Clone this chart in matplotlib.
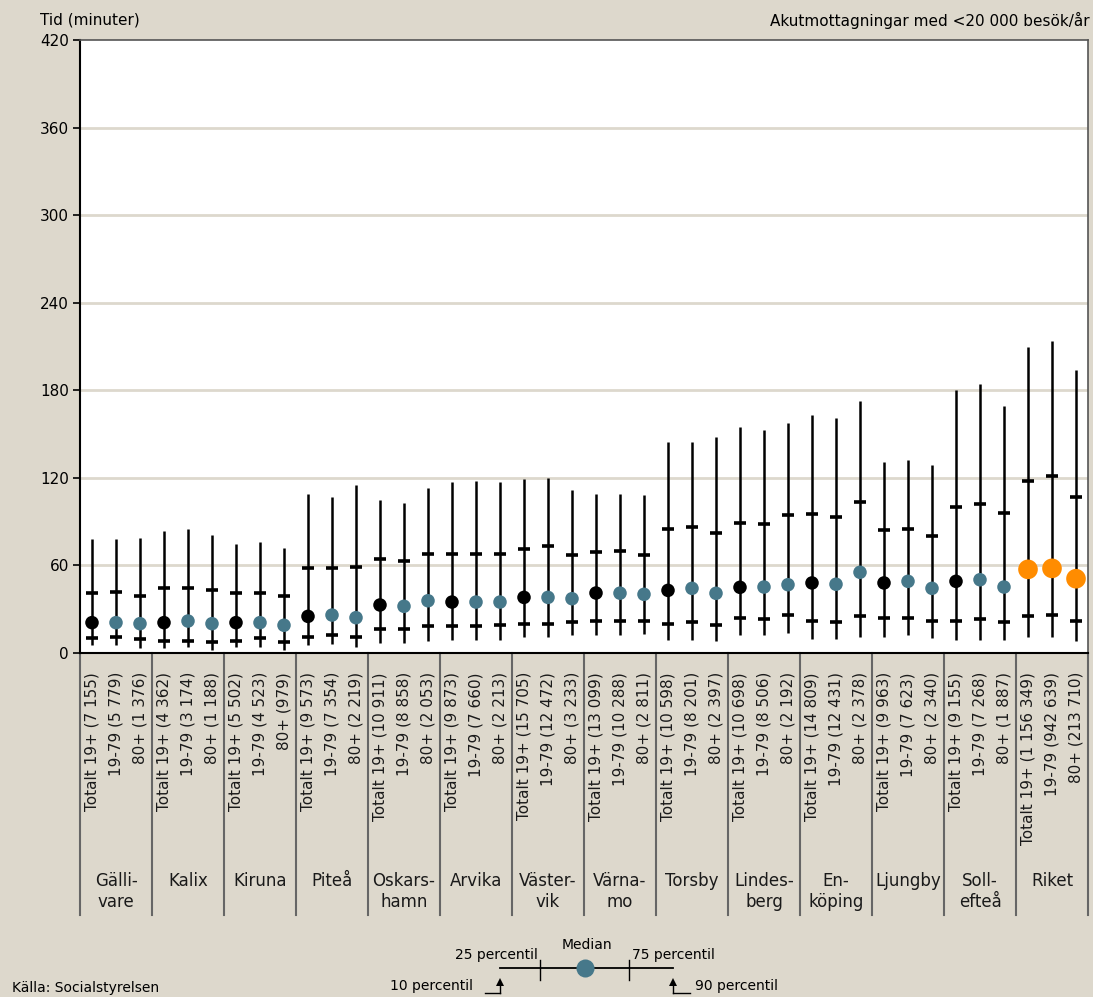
import matplotlib.pyplot as plt
import matplotlib.transforms as mtransforms
from matplotlib.lines import Line2D
import numpy as np

# Median waiting time (minutes) per emergency department and age group
groups = ["Gälli-\nvare", "Kalix", "Kiruna", "Piteå", "Oskars-\nhamn", "Arvika",
          "Väster-\nvik", "Värna-\nmo", "Torsby", "Lindes-\nberg", "En-\nköping",
          "Ljungby", "Soll-\nefteå", "Riket"]
labels = [
    "Totalt 19+ (7 155)", "19-79 (5 779)", "80+ (1 376)",
    "Totalt 19+ (4 362)", "19-79 (3 174)", "80+ (1 188)",
    "Totalt 19+ (5 502)", "19-79 (4 523)", "80+ (979)",
    "Totalt 19+ (9 573)", "19-79 (7 354)", "80+ (2 219)",
    "Totalt 19+ (10 911)", "19-79 (8 858)", "80+ (2 053)",
    "Totalt 19+ (9 873)", "19-79 (7 660)", "80+ (2 213)",
    "Totalt 19+ (15 705)", "19-79 (12 472)", "80+ (3 233)",
    "Totalt 19+ (13 099)", "19-79 (10 288)", "80+ (2 811)",
    "Totalt 19+ (10 598)", "19-79 (8 201)", "80+ (2 397)",
    "Totalt 19+ (10 698)", "19-79 (8 506)", "80+ (2 192)",
    "Totalt 19+ (14 809)", "19-79 (12 431)", "80+ (2 378)",
    "Totalt 19+ (9 963)", "19-79 (7 623)", "80+ (2 340)",
    "Totalt 19+ (9 155)", "19-79 (7 268)", "80+ (1 887)",
    "Totalt 19+ (1 156 349)", "19-79 (942 639)", "80+ (213 710)",
]
p10 = [5.5, 5.5, 3.2, 3.2, 4.3, 2.1, 4.3, 4.3, 2.1, 5.5, 6.2, 4.3,
       7.1, 7.1, 8.0, 9.1, 9.1, 9.1, 11.2, 11.2, 12.1, 12.1, 12.1, 13.0,
       9.1, 9.1, 8.0, 12.1, 12.1, 13.9, 9.8, 9.8, 11.2, 11.2, 12.1, 10.1,
       9.1, 9.1, 9.1, 11.2, 11.2, 8.0]
p25 = [10.1, 11.2, 9.4, 8.4, 8.4, 7.8, 8.4, 10.1, 7.8, 11.0, 12.1, 11.0,
       16.2, 16.2, 18.3, 18.3, 18.3, 19.0, 19.6, 19.6, 21.0, 21.7, 21.7, 21.7,
       19.6, 21.0, 19.0, 23.8, 23.1, 25.8, 21.7, 21.0, 25.1, 23.8, 23.8, 21.7,
       21.7, 23.1, 21.0, 25.1, 25.8, 21.7]
median = [20.8, 20.8, 20.1, 20.8, 21.9, 20.1, 20.8, 20.8, 19.0, 25.1, 26.0, 24.2,
          32.9, 32.0, 35.8, 34.9, 34.9, 34.9, 38.1, 38.1, 37.2, 41.1, 41.0, 40.2,
          42.9, 44.3, 40.9, 45.0, 45.2, 46.8, 48.0, 47.1, 55.3, 48.0, 49.1, 44.3,
          49.1, 50.2, 45.2, 57.3, 58.0, 50.9]
p75 = [40.9, 41.6, 39.1, 44.3, 44.3, 42.9, 40.9, 40.9, 39.1, 58.0, 58.0, 58.7,
       64.2, 62.8, 67.6, 67.6, 67.6, 67.6, 71.0, 73.1, 66.9, 69.0, 69.7, 66.9,
       84.7, 86.1, 82.0, 88.9, 88.2, 94.3, 95.0, 93.0, 103.3, 84.1, 84.7, 79.9,
       99.8, 101.9, 95.7, 117.6, 121.0, 106.7]
p90 = [77.9, 77.9, 78.8, 83.8, 84.7, 80.8, 74.9, 76.1, 71.7, 108.7, 106.9, 114.9,
       104.6, 103.0, 112.8, 117.0, 117.8, 117.0, 119.0, 120.1, 111.9, 108.9, 108.9, 108.3,
       144.8, 144.8, 147.8, 154.6, 153.0, 157.8, 162.8, 160.8, 172.9, 130.9, 132.0, 129.0,
       180.0, 184.1, 169.0, 209.9, 214.0, 193.9]

BG = "#ddd8cc"
TEAL = "#46788a"
ORANGE = "#ff8c00"
W, H = 1093, 997

fig = plt.figure(figsize=(W / 100, H / 100), dpi=100, facecolor=BG)
ax = fig.add_axes([80 / W, 1 - 653 / H, 1008 / W, 613 / H])
ax.set_facecolor("white")

n = len(labels)
x = np.arange(n)
ax.set_xlim(-0.5, n - 0.5)
ax.set_ylim(0, 420)

for y in range(60, 420, 60):
    ax.axhline(y, color="#ddd8cd", lw=2, zorder=0)

ax.vlines(x, p10, p90, color="black", lw=1.8, zorder=2)
ax.plot(x, p25, ls="none", marker="_", ms=9, mew=2.6, color="black", zorder=3)
ax.plot(x, p75, ls="none", marker="_", ms=9, mew=2.6, color="black", zorder=3)

colors = []
sizes = []
for i in range(n):
    if i >= n - 3:
        colors.append(ORANGE)
        sizes.append(200)
    elif i % 3 == 0:
        colors.append("black")
        sizes.append(95)
    else:
        colors.append(TEAL)
        sizes.append(95)
ax.scatter(x, median, s=sizes, c=colors, zorder=4, linewidths=0)

ax.set_yticks(range(0, 421, 60))
ax.tick_params(axis="y", direction="out", length=5, width=1.2, labelsize=11,
               colors="black", pad=3)
ax.set_xticks([])
for side in ["left", "bottom"]:
    ax.spines[side].set_linewidth(1.5)
    ax.spines[side].set_color("black")
for side in ["top", "right"]:
    ax.spines[side].set_linewidth(1.2)
    ax.spines[side].set_color("#555555")

# Category labels and group separators below the axes
trans = mtransforms.blended_transform_factory(ax.transData, fig.transFigure)
for i, lab in enumerate(labels):
    ax.text(i, 1 - 672 / H, lab, transform=trans, rotation=90, ha="center",
            va="top", fontsize=11, color="#1a1a1a")
for g in range(len(groups) + 1):
    xb = g * 3 - 0.5
    ax.add_line(Line2D([xb, xb], [1 - 653 / H, 1 - 915 / H], transform=trans,
                       color="#666666", lw=1.5, clip_on=False))
for g, name in enumerate(groups):
    ax.text(g * 3 + 1, 1 - 872 / H, name, transform=trans, ha="center",
            va="top", fontsize=12, linespacing=1.2, color="#1a1a1a")

fig.text(40 / W, 1 - 20 / H, "Tid (minuter)", fontsize=11, va="center", ha="left")
fig.text(1090 / W, 1 - 20 / H, "Akutmottagningar med <20 000 besök/år",
         fontsize=11, va="center", ha="right")
fig.text(12 / W, 1 - 988 / H, "Källa: Socialstyrelsen", fontsize=10,
         va="center", ha="left")


# Legend explaining the marker
def fx(px):
    return px / W


def fy(py):
    return 1 - py / H


fig.add_artist(Line2D([fx(500), fx(673)], [fy(968), fy(968)], color="black", lw=1.3))
for xt in (540, 629):
    fig.add_artist(Line2D([fx(xt), fx(xt)], [fy(960), fy(980)], color="black", lw=1))
fig.add_artist(Line2D([fx(585)], [fy(968)], marker="o", ms=13, color=TEAL, mew=0))
for xa, xl in ((500, 485), (673, 690)):
    fig.add_artist(Line2D([fx(xl), fx(xa)], [fy(993), fy(993)], color="black", lw=1))
    fig.add_artist(Line2D([fx(xa), fx(xa)], [fy(993), fy(983)], color="black", lw=1))
    fig.add_artist(Line2D([fx(xa)], [fy(982)], marker="^", ms=6, color="black", mew=0))
fig.text(fx(587), fy(945), "Median", fontsize=10, ha="center", va="center")
fig.text(fx(538), fy(955), "25 percentil", fontsize=10, ha="right", va="center")
fig.text(fx(632), fy(955), "75 percentil", fontsize=10, ha="left", va="center")
fig.text(fx(473), fy(986), "10 percentil", fontsize=10, ha="right", va="center")
fig.text(fx(695), fy(986), "90 percentil", fontsize=10, ha="left", va="center")

fig.savefig("out.png", dpi=100, facecolor=BG)
